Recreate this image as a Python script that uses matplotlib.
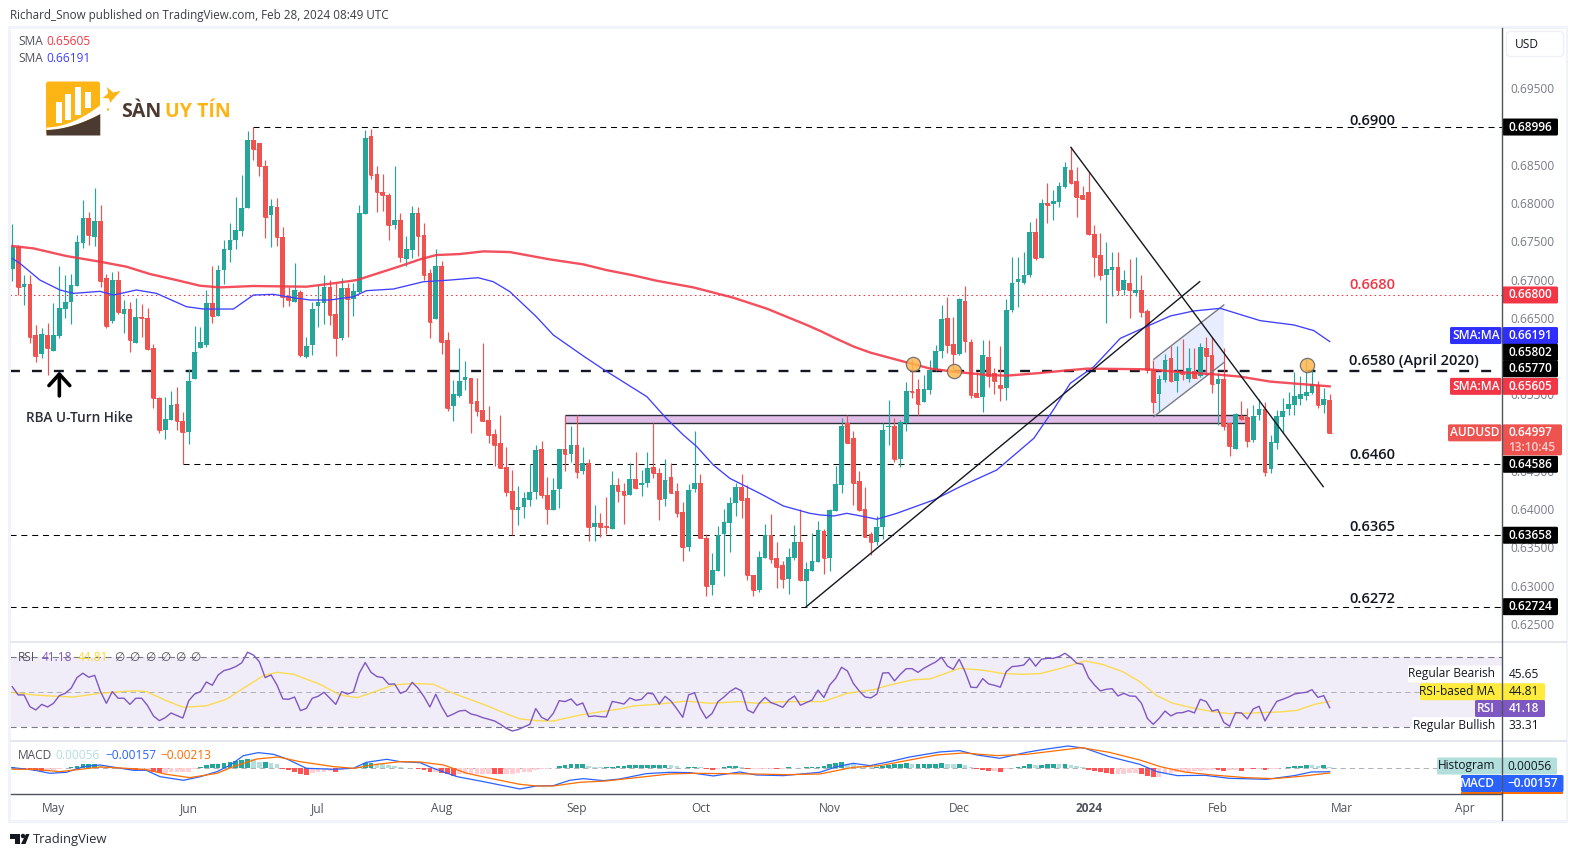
#!/usr/bin/env python3
# AUDUSD daily chart, rebuilt as a TradingView style screenshot
import numpy as np
import matplotlib
matplotlib.use("Agg")
import matplotlib.pyplot as plt
from matplotlib.patches import FancyBboxPatch, Polygon, Rectangle, Circle

plt.rcParams['font.family'] = ['Open Sans', 'DejaVu Sans']

# daily candles
opens = [.67143,.67431,.66908,.66943,.66276,.66028,.66276,.66071,.66267,.66620,
 .66712,.66921,.67483,.67806,.67562,.67767,.67021,.66459,.66995,.66555,
 .66616,.66176,.66512,.66499,.66106,.65457,.65034,.65165,.65374,.65152,
 .65008,.65701,.66106,.66145,.66695,.66529,.67126,.67387,.67518,.67640,
 .67937,.68826,.68782,.68486,.67845,.67950,.67557,.66786,.66712,.66838,
 .65993,.66145,.66655,.66699,.66904,.66551,.66237,.66891,.66747,.66838,
 .67858,.68878,.68381,.68146,.68107,.67714,.67780,.67270,.67387,.67871,
 .67584,.67082,.66490,.67178,.66211,.65348,.65483,.65688,.65710,.65413,
 .65296,.65165,.64982,.64864,.64550,.64237,.63993,.64032,.64123,.64228,
 .64786,.64184,.63993,.64267,.64786,.64725,.64838,.64498,.64603,.63770,
 .63818,.63779,.63744,.64315,.64237,.64189,.64394,.64315,.64341,.64550,
 .64472,.64136,.64420,.64237,.63962,.63509,.64267,.64341,.63622,.63008,
 .63191,.63674,.63818,.64080,.64289,.64145,.63138,.62942,.63361,.63661,
 .63361,.63269,.63086,.63361,.63570,.63060,.63191,.63308,.63714,.63361,
 .63975,.64315,.65126,.64930,.64368,.64002,.63675,.63571,.63771,.65078,
 .65087,.64656,.65122,.65545,.65571,.65401,.65558,.65815,.66068,.66499,
 .66159,.66028,.66721,.66185,.65514,.65471,.65989,.65780,.65623,.65588,
 .66604,.66970,.66957,.67061,.67623,.67283,.68003,.67990,.68016,.68212,
 .68434,.68290,.68107,.68146,.67597,.67323,.67061,.67127,.67166,.66865,
 .66957,.66826,.66865,.66591,.65819,.65505,.65688,.65976,.65680,.65797,
 .65702,.65806,.65741,.66107,.66015,.65636,.65702,.65122,.64786,.65218,
 .65205,.64904,.65231,.65309,.64525,.64865,.65205,.65309,.65362,.65440,
 .65479,.65519,.65623,.65362,.65427]
closes = [.67431,.66908,.66943,.66246,.66006,.66289,.66111,.66276,.66629,.66708,
 .66930,.67492,.67806,.67584,.67767,.66987,.66394,.66995,.66573,.66616,
 .66211,.66512,.66503,.66093,.65457,.65034,.65178,.65361,.65156,.65012,
 .65675,.66054,.66185,.66695,.66525,.67126,.67396,.67518,.67649,.67937,
 .68826,.68708,.68490,.67819,.67963,.67557,.66777,.66734,.66865,.66015,
 .66132,.66616,.66708,.66904,.66538,.66237,.66891,.66747,.66851,.67871,
 .68852,.68368,.68146,.68107,.67714,.67780,.67292,.67401,.67871,.67571,
 .67061,.66451,.67178,.66189,.65326,.65505,.65675,.65727,.65392,.65287,
 .65156,.64973,.64842,.64542,.64228,.64006,.64027,.64145,.64224,.64773,
 .64184,.64006,.64250,.64786,.64725,.64838,.64489,.64603,.63770,.63818,
 .63770,.63770,.64315,.64241,.64189,.64394,.64276,.64341,.64537,.64472,
 .64136,.64380,.64215,.63949,.63509,.64250,.64341,.63627,.62995,.63204,
 .63661,.63831,.64080,.64289,.64119,.63138,.62942,.63374,.63661,.63348,
 .63243,.63086,.63374,.63570,.63073,.63217,.63322,.63727,.63361,.63988,
 .64328,.65086,.64864,.64346,.63989,.63640,.63575,.63771,.65035,.65091,
 .64656,.65139,.65545,.65532,.65375,.65571,.65819,.66068,.66486,.66146,
 .66028,.66748,.66203,.65492,.65471,.66015,.65741,.65675,.65584,.66604,
 .66957,.67009,.67061,.67623,.67279,.68003,.67976,.68029,.68225,.68473,
 .68264,.68081,.68055,.67597,.67297,.67057,.67140,.67166,.66865,.66996,
 .66865,.66865,.66578,.65819,.65401,.65702,.65950,.65680,.65780,.65763,
 .65845,.65719,.66120,.66002,.65636,.65702,.65087,.64826,.65244,.65179,
 .64891,.65218,.65309,.64486,.64878,.65218,.65283,.65375,.65479,.65505,
 .65532,.65636,.65362,.65440,.64997]
highs = [.67727,.67453,.67061,.67061,.66407,.66363,.66429,.66690,.67178,.67061,
 .67074,.67584,.68041,.67884,.68198,.67976,.67074,.67104,.67117,.66734,
 .66712,.66756,.66682,.66625,.66159,.65470,.65470,.65548,.65601,.65274,
 .65827,.66394,.66376,.66865,.67178,.67191,.67518,.67736,.68085,.68368,
 .68948,.69000,.68791,.68564,.68054,.68063,.67684,.66908,.67213,.66865,
 .66254,.66712,.66930,.67061,.66995,.66952,.67017,.66960,.66960,.67976,
 .68956,.68969,.68486,.68381,.68137,.68486,.67867,.67571,.67963,.67954,
 .67736,.67135,.67401,.67244,.66311,.65688,.66106,.65936,.65710,.65710,
 .66167,.65348,.65043,.65230,.64812,.64511,.64302,.64228,.64585,.64838,
 .64890,.64420,.64407,.64786,.65230,.65086,.65230,.64812,.64651,.64054,
 .63949,.64163,.64498,.64407,.64337,.64603,.64747,.64511,.64747,.65121,
 .64537,.64655,.64598,.64346,.64093,.64328,.65021,.64459,.63674,.63426,
 .63779,.64001,.64163,.64341,.64459,.64315,.63138,.63452,.63805,.63936,
 .63570,.63322,.63491,.63792,.64001,.63313,.63688,.63844,.63740,.63997,
 .64564,.65191,.65230,.65022,.64499,.64285,.63706,.63915,.65122,.65427,
 .65187,.65166,.65662,.65950,.65697,.65750,.65950,.66146,.66669,.66769,
 .66517,.66756,.66917,.66220,.65797,.66211,.66211,.65841,.66133,.66743,
 .67301,.67301,.67362,.67754,.67806,.68051,.68260,.68173,.68273,.68534,
 .68730,.68478,.68225,.68408,.67711,.67606,.67493,.67362,.67362,.67127,
 .67266,.67297,.67061,.66612,.65950,.65750,.66028,.66133,.66133,.66225,
 .66111,.66107,.66168,.66246,.66246,.65784,.66103,.65122,.65253,.65414,
 .65327,.65362,.65436,.65405,.64969,.65296,.65449,.65536,.65797,.65741,
 .65972,.65819,.65675,.65580,.65505]
lows = [.66987,.66799,.66668,.66167,.65928,.65971,.65753,.66071,.66233,.66494,
 .66420,.66917,.67409,.67453,.67440,.66908,.66368,.66437,.66551,.66298,
 .66058,.66167,.66254,.66080,.65317,.64999,.64921,.65165,.65034,.64590,
 .64851,.65701,.66102,.66124,.66437,.66525,.66943,.67235,.67396,.67571,
 .67932,.68564,.68355,.67549,.67431,.67440,.66647,.66655,.66712,.65984,
 .65971,.66015,.66385,.66420,.66407,.66002,.66211,.66254,.66525,.66830,
 .67858,.68320,.67889,.67902,.67518,.67662,.67235,.67178,.67279,.67309,
 .66995,.66241,.66485,.66028,.65287,.65156,.65470,.65557,.64991,.65222,
 .65156,.64869,.64564,.64533,.64171,.63661,.63792,.63884,.64041,.64128,
 .64141,.63805,.63988,.64019,.64503,.64616,.64402,.64459,.63587,.63587,
 .63640,.63674,.63744,.64093,.63805,.64184,.64267,.64176,.64293,.64407,
 .63858,.64041,.64206,.63901,.63322,.63452,.64228,.63622,.62868,.62877,
 .63191,.63125,.63439,.63910,.63879,.63073,.62868,.62921,.63356,.63291,
 .62968,.62968,.62890,.63335,.63060,.62724,.63191,.63308,.63152,.63191,
 .63975,.64206,.64860,.64054,.63976,.63632,.63401,.63531,.63614,.64839,
 .64612,.64547,.65022,.65458,.65231,.65401,.65501,.65811,.65972,.66037,
 .65797,.66015,.66059,.65458,.65462,.65274,.65601,.65505,.65418,.65427,
 .66582,.66647,.66944,.67031,.67257,.67279,.67745,.67780,.67946,.68203,
 .68251,.67824,.68051,.67584,.67039,.66996,.66429,.66787,.66800,.66800,
 .66495,.66791,.66517,.65776,.65261,.65274,.65667,.65667,.65536,.65688,
 .65667,.65710,.65723,.65754,.65514,.65100,.65035,.64695,.64786,.65166,
 .64817,.64882,.65166,.64438,.64477,.64786,.65000,.65231,.65231,.65362,
 .65427,.65505,.65327,.65253,.64997]

# moving averages, read at the bars where they bend
sma_red_bar = [0,3.6,9.2,14.9,19.4,23.4,27.9,31.9,35.3,41,50,54.6,58.6,63,66,69.3,72.1,76.1,80.1,84.6,91.4,97.1,101,
 105.6,109.5,115.8,122.6,128.3,135.1,137.4,140.2,143.1,145.9,151.6,156.1,160.1,165.7,169.1,174.2,178.8,182.8,188.4,193,199.8,204.3,208.8,213.9,219.6,224]
sma_red = [.67440,.67409,.67309,.67235,.67170,.67074,.66995,.66921,.66899,.66917,.66908,.66952,.66995,.67104,.67178,.67265,.67322,.67335,.67370,.67361,.67265,.67200,.67126,
 .67056,.66987,.66899,.66764,.66621,.66407,.66329,.66225,.66124,.66046,.65928,.65837,.65797,.65754,.65745,.65776,.65810,.65837,.65832,.65828,.65784,.65763,.65732,.65667,.65632,.65605]
sma_blue_bar = [0,1.3,4.7,8.1,10.4,14.9,17.2,21.1,24.5,29.6,32.5,37.6,41,44.4,47.8,50.6,54,58,60.2,64.8,69.9,74.4,79.2,81.8,84.6,89.1,92,97.1,100.5,
 107.9,111.2,114.1,116.4,119.2,122,127.1,131.1,135.6,137.4,139.7,141.9,144.8,147,150.4,156.7,161.2,167.4,173.7,177,179.9,183.9,188.4,196.9,200.9,205.4,212.2,217.9,221.3,224]
sma_blue = [.67278,.67213,.66995,.66865,.66821,.66847,.66799,.66865,.66821,.66647,.66616,.66616,.66799,.66808,.66764,.66734,.66734,.66777,.66856,.66878,.66973,.66995,.67026,.66973,.66843,.66516,.66276,.66002,.65827,
 .65470,.65187,.64969,.64816,.64577,.64402,.64206,.64041,.63945,.63923,.63910,.63945,.63902,.63867,.63945,.64120,.64294,.64512,.64926,.65296,.65645,.65863,.66233,.66525,.66591,.66625,.66464,.66408,.66334,.66191]

rsi = [53.2,48.5,48.5,41.8,39.9,43.1,41.6,43.7,48.1,49.4,52.3,58.4,60.9,58.6,59.7,50.4,43.7,50.4,46.6,46.6,
 43.1,46.6,46.6,42.4,36.5,33.8,35.5,38.2,36.7,35.3,45.2,49.0,50.4,55.9,54.0,59.9,62.4,63.3,64.7,66.8,
 72.9,71.3,67.5,58.4,59.9,54.2,46.2,46.0,47.3,39.5,40.8,46.6,47.7,50.0,46.6,43.1,50.4,49.0,50.2,60.9,
 67.0,61.4,59.0,58.4,54.6,54.8,49.4,50.8,55.7,52.3,47.5,41.6,48.9,41.8,36.1,37.6,39.3,39.7,37.6,36.8,
 35.5,34.6,33.6,31.7,29.4,27.9,28.7,
 30.2,31.7,40.7,35.7,34.0,38.0,45.2,44.7,46.2,42.6,43.9,36.1,36.5,36.1,35.9,44.8,44.1,43.3,46.8,45.4,
 46.0,49.6,49.0,43.3,47.7,45.0,40.5,35.7,48.5,49.8,40.8,35.1,38.0,44.7,47.3,50.4,52.5,50.8,39.9,38.2,
 43.7,47.1,44.1,42.9,41.4,45.6,47.9,42.6,44.1,45.6,51.3,47.0,54.2,58.0,64.3,62.2,55.1,50.8,47.3,46.8,
 49.0,61.0,61.2,56.5,60.3,63.5,63.5,61.4,63.7,65.6,67.3,70.0,65.0,63.1,68.9,61.8,52.9,52.7,57.8,54.8,
 54.0,52.9,61.8,64.7,65.0,65.6,69.4,64.9,68.9,
 69.4,69.4,70.4,72.3,69.8,66.6,66.0,58.4,54.2,50.8,51.7,52.1,47.9,49.4,47.9,47.7,43.7,35.1,31.7,35.1,
 39.3,36.5,38.2,38.4,39.5,38.2,46.0,44.7,39.3,40.1,32.8,30.6,38.4,38.2,34.8,40.5,42.0,33.6,39.3,44.8,
 46.0,47.3,49.0,49.6,50.0,51.5,47.1,48.1,41.18]
rsi_ma_bar = [0,3.6,7.5,10.4,14.9,20.6,22.8,26.2,29.1,33,36.4,39.3,42.7,45,47.8,52.3,55.7,58.6,62,64.8,68.2,71.6,75,80.1,84.1,86.3,
 89.1,92,96.5,99.9,103.3,105.6,110.1,114.6,118.6,123.7,126.5,131.6,137.9,141.9,146.4,149.2,153.2,156,161.1,165.1,168.5,171.9,174.8,
 178.3,182.4,185.3,188.8,191.7,194.6,197.2,200.5,204,206.9,211,215.6,218.5,221.4,224]
rsi_ma = [50.0,48.5,47.7,47.3,49.4,50.9,50.4,45.2,41.4,42.3,46.0,52.3,59.5,61.4,60.3,54.6,48.5,46.9,50.8,54.2,55.0,54.6,49.4,43.1,37.6,34.8,
 33.8,33.6,37.0,38.8,40.5,42.2,43.3,45.0,43.7,44.7,43.7,44.7,44.7,49.4,51.5,54.2,57.2,57.6,63.7,62.6,60.7,60.3,60.7,
 63.7,67.9,66.0,61.8,56.1,48.1,43.9,41.2,39.0,37.8,38.2,38.8,39.7,43.1,44.81]

macd_bar = [0,3.6,6.4,9.2,12.1,14.9,17.7,20.6,22.8,25.1,29.1,32,34.8,37.1,39.3,41.8,44.4,46.7,50,54.6,58,60.2,63.7,65.9,69.3,71.6,75.6,80.1,86.3,
 89.1,92,94.8,97.1,100.5,103.3,107.8,111.8,115.2,119.2,123.7,126.5,131.1,137.3,140.2,143,145.8,148.7,152.6,157.7,161.1,164,167.9,172.5,174.8,
 179.5,182.4,186.5,191.7,194.6,198.1,202.8,206.9,213.3,218,220.9,224]
macd = [.0003,-.00076,-.00227,-.00182,.00076,.00152,.0003,-.00091,-.00091,-.00379,-.00545,-.00379,-.00152,.00152,.00576,.00712,.00636,.00424,0,-.00045,0,.00273,.00409,.00303,.00258,0,-.00379,-.00606,-.00939,
 -.00803,-.00788,-.00545,-.0047,-.00561,-.00485,-.00242,-.00182,-.00197,-.00348,-.00167,-.00303,-.00333,-.00182,.00076,.00227,.00121,.00273,.00515,.00742,.00803,.00606,.00455,.00727,.00833,
 .01015,.00909,.0053,.00182,-.00152,-.00333,-.00318,-.00455,-.005,-.00333,-.00167,-.00157]
signal_bar = [0,3.6,8.1,12.1,14.9,19.4,22.8,26.2,30.2,34.8,37.6,41.6,45.2,48.9,54.6,58,62,65.9,69.3,73.3,77.3,81.8,86.3,
 89.1,92,96.5,101,106.1,111.8,115.8,121.4,126,131.7,137.3,143,147.5,152.6,157.2,161.7,167.4,172.5,174.8,
 181.8,186.5,191.7,195.2,199.3,204,209.8,214.5,219.1,224]
signal = [-.00045,-.00045,-.00152,-.0003,.00061,0,-.00061,-.00273,-.00424,-.00227,.00076,.00424,.00515,.00303,.00076,0,.00182,.00303,.00288,.00152,-.00227,-.00485,-.00727,
 -.00803,-.00803,-.00636,-.00576,-.00424,-.00258,-.00227,-.00242,-.00258,-.00288,-.00258,.00045,.00121,.00379,.00606,.00697,.00576,.00636,.00712,
 .00939,.00727,.00379,.00076,-.00167,-.00303,-.00424,-.0047,-.00364,-.00213]
# histogram in pips (0.0001)
hist_pips = [7.5,1.5,-3,-7.5,-10.5,-12,-12,-7.5,-4.5,1.5,
 6,10.5,18,18,18,12,4.5,1.5,0,-3,
 -7.5,-9,-9,-9,-18,-22.5,-21,-18,-18,-15,
 -15,-3,4.5,15,18,21,25.5,30,33,37.5,
 43.5,42,30,30,22.5,18,-3,-9,-15,-25.5,
 -30,-21,-18,-15,-12,-15,-6,-3,0,7.5,
 22.5,24,21,18,15,9,4.5,1.5,3,-1.5,
 -6,-15,-15,-21,-27,-33,-27,-24,-24,-24,
 -24,-24,-25.5,-27,-27,-27,-21,-18,-15,-6,
 -1.5,-1.5,1.5,12,15,19.5,19.5,19.5,10.5,6,
 4.5,4.5,6,10.5,10.5,15,16.5,16.5,16.5,16.5,
 16.5,16.5,15,10.5,3,4.5,6,4.5,-4.5,-9,
 -3,4.5,9,10.5,6,-4.5,-3,-1.5,-1.5,-1.5,
 -3,-3,4.5,1.5,1.5,6,6,7.5,12,19.5,
 22.5,28.5,21,18,12,9,6,7.5,12,15,
 19.5,19.5,22.5,21,21,21,21,21,24,19.5,
 18,19.5,13.5,4.5,-4.5,-7.5,-10.5,-10.5,-15,-4.5,
 3,6,12,18,15,16.5,21,21,19.5,21,
 15,9,4.5,-6,-12,-18,-22.5,-24,-24,-24,
 -22.5,-22.5,-27,-36,-39,-37.5,-27,-21,-18,-16.5,
 -15,-13.5,-10.5,-9,-7.5,-9,-12,-7.5,-7.5,-10.5,
 -3,-4.5,-3,-7.5,-4.5,-1.5,1.5,7.5,10.5,12,
 15,13.5,12,13.5,5.6]

price_ticks = [.625,.63,.635,.64,.645,.65,.655,.66,.665,.67,.675,.68,.685,.69,.695]
month_bars = [7,30,52,73,96,117,139,161,183,205,226,247]
month_labels = ['May','Jun','Jul','Aug','Sep','Oct','Nov','Dec','2024','Feb','Mar','Apr']

GREEN = '#26a69a'
RED = '#ef5350'
INK = '#131722'
GREY = '#787b86'
W, H = 1578, 857
BAR_MIN, BAR_MAX = -0.39, 253.3
FONT = 8.6


def pane(top, bottom):
    # axes spanning the chart width between two pixel rows
    a = fig.add_axes([10/W, (H-bottom)/H, 1492/W, (bottom-top)/H])
    a.set_xlim(BAR_MIN, BAR_MAX)
    a.set_xticks([])
    a.set_yticks([])
    for s in a.spines.values():
        s.set_visible(False)
    return a


fig = plt.figure(figsize=(W/100, H/100), dpi=100, facecolor='white')
ax = pane(27, 642)
ax.set_ylim(.62262, .70304)
rsi_ax = pane(642, 741)
rsi_ax.set_ylim(22.17, 78.74)
macd_ax = pane(741, 794)
macd_ax.set_ylim(-.01168, .01241)

# overlay in pixel coordinates for the frame, badges and logos
ov = fig.add_axes([0, 0, 1, 1], zorder=10)
ov.set_xlim(0, W)
ov.set_ylim(H, 0)
ov.axis('off')
ov.patch.set_alpha(0)

# ---- price pane
bars = np.arange(len(closes))
o = np.array(opens); c = np.array(closes)
cols = [GREEN if up else RED for up in c >= o]
DASH = (0, (5.8, 4.6))
ax.hlines([.63658, .62724], BAR_MIN, BAR_MAX, color='black', lw=.75, ls=DASH, zorder=1)
ax.hlines(.68996, 41, BAR_MAX, color='black', lw=.75, ls=DASH, zorder=1)
ax.hlines(.64586, 29, BAR_MAX, color='black', lw=.75, ls=DASH, zorder=1)
ax.hlines(.65802, BAR_MIN, BAR_MAX, color=INK, lw=1.7, ls=(0, (4.2, 5.1)), zorder=1)
ax.hlines(.668, BAR_MIN, BAR_MAX, color='#f23645', lw=.75, ls=(0, (1.5, 3)), zorder=1)

ax.add_patch(Rectangle((94, .65122), 115.9, .00104, fc='#e1bee7', ec='none', zorder=1))
ax.hlines([.65226, .65122], 94, 209.9, color='#2a2e39', lw=1, zorder=1.5)

ax.add_patch(Polygon([(194.1, .65959), (206, .66669), (206, .65915), (194.1, .65209)],
                     fc='#2962ff', alpha=.11, ec='none', zorder=1))
ax.plot([194.1, 206], [.65959, .66669], color='#787b86', lw=1, zorder=4)
ax.plot([194.1, 206], [.65209, .65915], color='#787b86', lw=1, zorder=4)

ax.vlines(bars, lows, highs, color=cols, lw=.85, zorder=2)
ax.bar(bars, c-o, bottom=o, width=.8, color=cols, linewidth=0, zorder=3)
# doji still need to show
ax.hlines(closes, bars-.4, bars+.4, color=cols, lw=.7, zorder=3)

ax.plot(sma_blue_bar, sma_blue, color='#3f3fff', lw=.95, zorder=5, solid_joinstyle='round')
ax.plot(sma_red_bar, sma_red, color='#f23645', lw=1.7, alpha=.88, zorder=5, solid_joinstyle='round')

ax.plot([135, 201.9], [.62724, .66974], color=INK, lw=1.0, zorder=6)
ax.plot([180, 222.9], [.68730, .64294], color=INK, lw=1.0, zorder=6)
ax.scatter([153.1, 160.1, 220.1], [.65893, .65811, .65880], s=105, c='#ffb74d', alpha=.85,
           edgecolors='#5d606b', linewidths=.9, zorder=7)

ax.annotate('', xy=(8, .65800), xytext=(8, .65480),
            arrowprops=dict(arrowstyle='->,head_length=0.55,head_width=0.5', color='black',
                            lw=2.6, mutation_scale=15, shrinkA=0, shrinkB=0), zorder=7)
ax.text(11.5, .65190, 'RBA U-Turn Hike', color='#2a2e39', fontsize=9.8, fontweight='semibold',
        ha='center', va='center', zorder=7)

level_text = [(.6900, '0.6900', INK, 121), (.6680, '0.6680', '#f23645', 285), (.6580, '0.6580 (April 2020)', INK, 361),
              (.6460, '0.6460', INK, 455), (.6365, '0.6365', INK, 527), (.6272, '0.6272', INK, 599)]
for val, label, col, row in level_text:
    ov.text(1349, row, label, color=col, fontsize=10.5, fontweight='semibold', ha='left', va='center')

ax.yaxis.tick_right()
ax.set_yticks(price_ticks)
ax.set_yticklabels(['%.5f' % t for t in price_ticks], fontsize=FONT, color=GREY)
ax.tick_params(axis='y', length=0, pad=5.8)

# ---- RSI pane
rsi_ax.axhspan(30, 70, fc='#7e57c2', alpha=.1, ec='none', zorder=0)
rsi_ax.hlines([70, 30], BAR_MIN, BAR_MAX, color=GREY, lw=.8, ls=(0, (5.5, 4)), zorder=1)
rsi_ax.hlines(50, BAR_MIN, BAR_MAX, color=GREY, lw=.7, alpha=.55, ls=(0, (5.5, 4)), zorder=1)
rsi_ax.plot(rsi_ma_bar, rsi_ma, color='#fdd835', lw=1.0, alpha=.85, zorder=2)
rsi_ax.plot(np.arange(len(rsi)), rsi, color='#7e57c2', lw=1.0, zorder=3)

# ---- MACD pane
hist = np.array(hist_pips) * 1e-4
prev = np.concatenate(([0], hist[:-1]))
hist_cols = []
for h, p in zip(hist, prev):
    if h >= 0:
        hist_cols.append(GREEN if h >= p else '#b2dfdb')
    else:
        hist_cols.append('#ff5252' if h < p else '#ffcdd2')
macd_ax.hlines(0, BAR_MIN, BAR_MAX, color=GREY, lw=.7, alpha=.6, ls=(0, (5.5, 4)), zorder=1)
macd_ax.bar(np.arange(len(hist)), hist, width=.8, color=hist_cols, linewidth=0, zorder=2)
macd_ax.plot(macd_bar, macd, color='#2962ff', lw=.9, zorder=3)
macd_ax.plot(signal_bar, signal, color='#ff6d00', lw=.9, zorder=4)
macd_ax.set_xticks(month_bars)
macd_ax.set_xticklabels(month_labels, fontsize=FONT, color='#50535e')
macd_ax.get_xticklabels()[8].set_fontweight('bold')
macd_ax.tick_params(axis='x', length=0, pad=6)

# ---- frame and separators
FRAME = '#f0f3fa'
for rect in [(8.5, 26, 1560, 2.5), (8.5, 820, 1560, 2.5), (8.5, 26, 2.5, 796), (1566, 26, 2.5, 796)]:
    ov.add_patch(Rectangle(rect[:2], rect[2], rect[3], fc=FRAME, ec='none'))
ov.plot([11, 1566], [642, 642], color='#e0e3eb', lw=1.2)
ov.plot([11, 1566], [741, 741], color='#e0e3eb', lw=1.2)
ov.plot([11, 1502], [794, 794], color='#50535e', lw=1.0)
ov.plot([1502, 1502], [28, 820], color='#50535e', lw=1.0)
ov.add_patch(FancyBboxPatch((1508, 33), 54, 22, boxstyle='round,pad=1.5,rounding_size=4',
                            fc='white', ec='#eef0f5', lw=1))
ov.text(1515, 44.5, 'USD', fontsize=FONT, color='#131722', va='center')


def badge(x0, x1, yc, fc, text=None, tc='white', h=17, align='center', weight='semibold'):
    ov.add_patch(FancyBboxPatch((x0+1, yc-h/2+1), x1-x0-2, h-2, boxstyle='round,pad=1,rounding_size=1.5',
                                fc=fc, ec='none'))
    if text:
        tx = (x0+x1)/2 if align == 'center' else x1-7
        ov.text(tx, yc, text, color=tc, fontsize=FONT, ha=align, va='center', fontweight=weight)


def price_row(p):
    # pixel row of a price, taken from the price pane
    return H - ax.transData.transform((0, p))[1]


# price badges, some pushed up by the stacking of the labels
badge_vals = [.68996, .66800, .65605, .64586, .63658, .62724]
badge_cols = ['black', '#f23645', '#f23645', 'black', 'black', 'black']
for val, col in zip(badge_vals, badge_cols):
    badge(1502.5, 1558, price_row(val), col, '%.5f' % val)
badge(1502.5, 1558, price_row(.66191)-6, '#2e2eff', '0.66191')
badge(1502.5, 1558, price_row(.65802)-19, 'black', '0.65802')
badge(1502.5, 1558, price_row(.65770)-5, 'black', '0.65770')
badge(1450, 1501.5, price_row(.66191)-6, '#2e2eff', 'SMA:MA')
badge(1450, 1501.5, price_row(.65605), '#f23645', 'SMA:MA')
badge(1448, 1501.5, price_row(.64997), RED, 'AUDUSD')
aud_row = price_row(.64997)
badge(1502.5, 1562, aud_row+7, RED, None, h=31)
ov.text(1530, aud_row, '0.64997', color='white', fontsize=FONT, ha='center', va='center', fontweight='semibold')
ov.text(1532, aud_row+15, '13:10:45', color='#fbd0ce', fontsize=FONT, ha='center', va='center', fontweight='semibold')

# indicator badges
badge(1408, 1502, 674, 'white', 'Regular Bearish', INK, align='right', weight='normal')
ov.text(1524, 674, '45.65', color=INK, fontsize=FONT, ha='center', va='center')
badge(1420, 1502, 691.7, '#ffeb3b', 'RSI-based MA', INK, align='right', weight='normal')
badge(1502.5, 1545, 691.7, '#ffeb3b', '44.81', INK, weight='normal')
badge(1475, 1502, 708.5, '#7e57c2', 'RSI', 'white', align='right')
badge(1502.5, 1545, 708.5, '#7e57c2', '41.18')
badge(1412, 1502, 725.5, 'white', 'Regular Bullish', INK, align='right', weight='normal')
ov.text(1524, 725.5, '33.31', color=INK, fontsize=FONT, ha='center', va='center')
badge(1437, 1502, 766, '#b2dfdb', 'Histogram', INK, align='right', weight='normal')
badge(1502.5, 1557, 766, '#b2dfdb', '0.00056', INK, weight='normal')
ov.add_patch(Rectangle((1461, 791.5), 102.5, 2.2, fc='#ff6d00', ec='none'))
badge(1461, 1502, 783.5, '#2962ff', 'MACD', 'white', align='right')
badge(1502.5, 1563.5, 783.5, '#2962ff', '\u22120.00157')

# ---- legends
ov.text(10, 15, 'Richard_Snow published on TradingView.com, Feb 28, 2024 08:49 UTC', fontsize=8.4, color='#3a3d46', va='center')
ov.text(18, 41.5, 'SMA', fontsize=FONT, color='#50535e', va='center')
ov.text(46.5, 41.5, '0.65605', fontsize=FONT, color='#f23645', va='center')
ov.text(18, 58.7, 'SMA', fontsize=FONT, color='#50535e', va='center')
ov.text(46.5, 58.7, '0.66191', fontsize=FONT, color='#3f3fff', va='center')
ov.text(18, 657.5, 'RSI', fontsize=FONT, color='#50535e', va='center')
ov.text(41.5, 657.5, '41.18', fontsize=FONT, color='#7e57c2', va='center')
ov.text(78, 657.5, '44.81', fontsize=FONT, color='#fdd835', va='center')
for col_x in [119, 134, 150, 165, 180, 195]:
    ov.text(col_x, 657.5, '\u2205', fontsize=FONT, color='#50535e', va='center', ha='center', family='DejaVu Sans')
ov.text(18, 755.5, 'MACD', fontsize=FONT, color='#50535e', va='center')
ov.text(55, 755.5, '0.00056', fontsize=FONT, color='#b2dfdb', va='center')
ov.text(105, 755.5, '\u22120.00157', fontsize=FONT, color='#2962ff', va='center')
ov.text(160.5, 755.5, '\u22120.00213', fontsize=FONT, color='#ff6d00', va='center')

# ---- TradingView mark
ov.add_patch(Polygon([(10, 834), (20, 834), (20, 844), (15, 844), (15, 838.5), (10, 838.5)], fc=INK, ec='none'))
ov.add_patch(Circle((23, 836), 2.2, fc=INK, ec='none'))
ov.add_patch(Polygon([(26, 834), (29.5, 834), (25.5, 844), (21, 844)], fc=INK, ec='none'))
ov.text(33, 839, 'TradingView', fontsize=9.4, color='#2a2e39', va='center')

# ---- site logo
LOGO_ORANGE = '#fdb515'
LOGO_BROWN = '#4b3a2f'
ov.add_patch(FancyBboxPatch((47, 82.5), 52, 51, boxstyle='round,pad=1,rounding_size=2.5', fc=LOGO_ORANGE, ec='none'))
swoosh_x = np.linspace(46, 106, 30)
brown_top = 129.5 - 16*((swoosh_x-46)/54)**1.8
swoosh_w = 2.5 + 8*((swoosh_x-46)/60)**2
ov.fill_between(swoosh_x, brown_top-swoosh_w, brown_top, color='white', lw=0)
keep = swoosh_x <= 100
ov.fill_between(swoosh_x[keep], brown_top[keep], 135, color=LOGO_BROWN, lw=0)
for bx, top, bot in [(56, 101.7, 123), (65, 94, 120), (75, 87.3, 115), (85, 91.7, 108)]:
    ov.add_patch(Rectangle((bx, top), 5.8, bot-top, fc='white', ec='none'))
ov.add_patch(Polygon([(107, 87), (113, 92.5), (120.7, 91), (115, 97), (110, 103), (109, 98.5), (102.7, 98), (108, 93.5)],
                     fc=LOGO_ORANGE, ec='none'))
ov.add_patch(Circle((108, 109.5), 1.2, fc=LOGO_ORANGE, ec='none'))
ov.text(121.5, 111.5, 'S\u00c0N', fontsize=14, fontweight='bold', color=LOGO_BROWN, va='center', family='Open Sans')
ov.text(165, 111.5, 'UY T\u00cdN', fontsize=14, fontweight='bold', color=LOGO_ORANGE, va='center', family='Open Sans')

fig.savefig('out.png', dpi=100, facecolor='white')
